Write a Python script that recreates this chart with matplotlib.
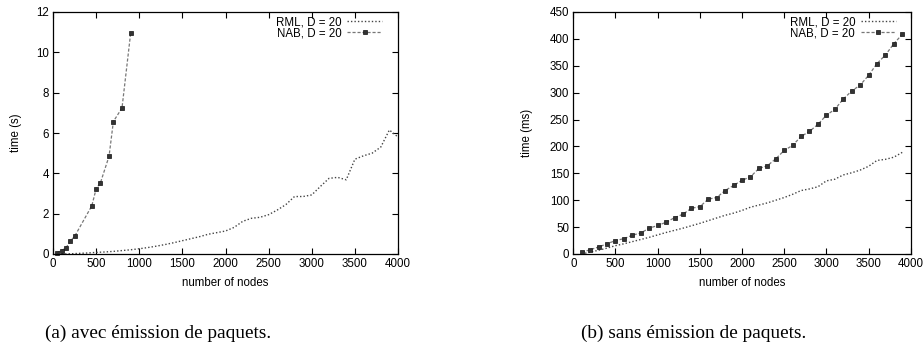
import matplotlib
matplotlib.use("Agg")
import matplotlib.pyplot as plt
import numpy as np

# ---- data: panel (a) avec émission de paquets (time in s) ----
nab_a_x = [50, 100, 150, 200, 250, 450, 500, 550, 650, 700, 800, 900]
nab_a_y = [0.07, 0.17, 0.30, 0.63, 0.87, 2.39, 3.23, 3.53, 4.85, 6.57, 7.24, 10.94]

rml_a_x = list(range(100, 4001, 100))
rml_a_y = [0.0, 0.01, 0.03, 0.05, 0.08, 0.10, 0.13, 0.17, 0.21, 0.26,
           0.32, 0.39, 0.47, 0.56, 0.66, 0.76, 0.86, 0.98, 1.06, 1.14,
           1.32, 1.62, 1.77, 1.82, 1.95, 2.18, 2.45, 2.85, 2.85, 2.93,
           3.35, 3.75, 3.80, 3.68, 4.70, 4.87, 5.00, 5.30, 6.15, 5.80]

# ---- data: panel (b) sans émission de paquets (time in ms) ----
nab_b_x = list(range(100, 3901, 100))
nab_b_y = [3, 8, 13, 19, 25, 28.5, 35, 39, 48, 53,
           59, 67.5, 74, 85, 88, 102, 105, 118, 127.5, 137,
           143.5, 159, 164, 177, 192.5, 202, 218.5, 228, 241, 258,
           269, 288, 303, 314, 332, 354, 370, 391, 408.5]

rml_b_x = list(range(100, 3901, 100))
rml_b_y = [0, 3.5, 7, 11, 15.5, 19, 23, 27, 31, 35.5,
           40, 44, 48, 52.5, 57, 62, 67, 72, 76, 81,
           87, 91, 95, 100, 105, 111, 118, 121, 125, 136,
           139, 147, 151, 156, 163, 174, 176, 180, 189]

xticks = [0, 500, 1000, 1500, 2000, 2500, 3000, 3500, 4000]
yticks_a = [0, 2, 4, 6, 8, 10, 12]
yticks_b = [0, 50, 100, 150, 200, 250, 300, 350, 400, 450]

legend_rml = "RML, D = 20"
legend_nab = "NAB, D = 20"
xlabel = "number of nodes"
ylabel_a = "time (s)"
ylabel_b = "time (ms)"
caption_a = "(a) avec émission de paquets."
caption_b = "(b) sans émission de paquets."

plt.rcParams['font.family'] = ['Liberation Sans', 'DejaVu Sans']
FS = 8.3

fig = plt.figure(figsize=(9.24, 3.59), dpi=100)
ax1 = fig.add_axes([53/924, 1-254/359, 345/924, 242/359])
ax2 = fig.add_axes([573.3/924, 1-254/359, 337.4/924, 242/359])


def style(ax, yticks, ylabel, ylpad):
    ax.set_xlim(0, 4000)
    ax.set_ylim(yticks[0], yticks[-1])
    ax.set_xticks(xticks)
    ax.set_yticks(yticks)
    ax.tick_params(direction='in', top=True, right=True, length=4,
                   width=0.8, labelsize=FS, pad=3, colors='black')
    for s in ax.spines.values():
        s.set_linewidth(0.9)
    ax.set_xlabel(xlabel, fontsize=FS, labelpad=5)
    ax.set_ylabel(ylabel, fontsize=FS, labelpad=ylpad)


for ax, rx, ry, nx, ny, yt, yl, lp, ax_anchor in [
        (ax1, rml_a_x, rml_a_y, nab_a_x, nab_a_y, yticks_a, ylabel_a, 10, 0.965),
        (ax2, rml_b_x, rml_b_y, nab_b_x, nab_b_y, yticks_b, ylabel_b, 12, 0.967)]:
    ax.plot(rx, ry, linestyle=(0, (1, 1.5)), color='#444444', lw=1.0,
            label=legend_rml, clip_on=False)
    ax.plot(nx, ny, linestyle=(0, (2.5, 1.5)), color='#777777', lw=0.9,
            marker='s', markersize=3.4, markerfacecolor='#333333',
            markeredgecolor='#111111', markeredgewidth=0.5,
            label=legend_nab, clip_on=False)
    style(ax, yt, yl, lp)
    leg = ax.legend(loc='upper right', bbox_to_anchor=(ax_anchor, 1.0),
                    frameon=False, fontsize=FS,
                    markerfirst=False, handlelength=3.0, handletextpad=0.5,
                    borderaxespad=0.05, borderpad=0.3, labelspacing=-0.05)

fig.text(158/924, 1-333/359, caption_a, ha='center', va='center',
         fontsize=13.9, family=['Liberation Serif', 'DejaVu Serif'])
fig.text(694/924, 1-333/359, caption_b, ha='center', va='center',
         fontsize=13.9, family=['Liberation Serif', 'DejaVu Serif'])

fig.savefig("out.png", dpi=100)
